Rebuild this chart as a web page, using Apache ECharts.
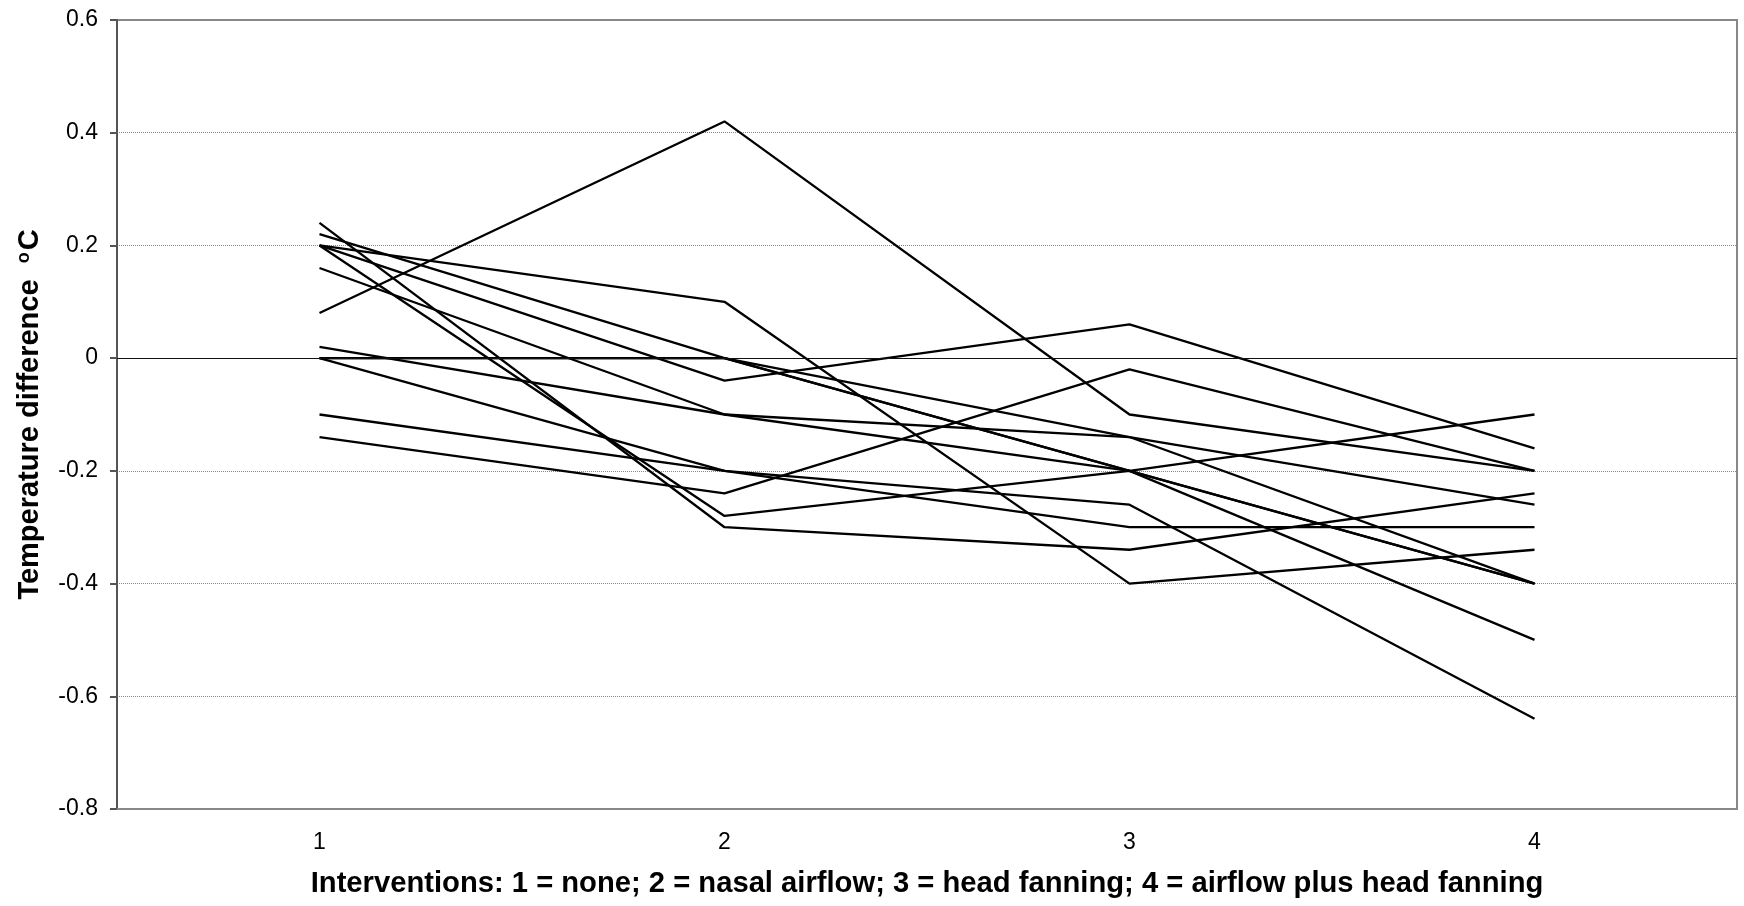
<!DOCTYPE html>
<html>
<head>
<meta charset="utf-8">
<script src="https://cdn.jsdelivr.net/npm/echarts@6/dist/echarts.min.js"></script>
<style>
html,body{margin:0;padding:0;background:#fff;}
#chart{width:1744px;height:906px;}
</style>
</head>
<body>
<div id="chart"></div>
<script>
// Categories (interventions)
const categories = ['1', '2', '3', '4'];
// Y tick settings
const yMin = -0.8, yMax = 0.6, yStep = 0.2;
// One array per subject: temperature difference at interventions 1..4
const s01 = [0.08, 0.42, -0.10, -0.20];
const s02 = [0.20, 0.10, -0.40, -0.34];
const s03 = [0.22, 0.00, -0.14, -0.26];
const s04 = [0.00, 0.00, -0.20, -0.10];
const s05 = [0.00, 0.00, -0.20, -0.40];
const s06 = [0.20, -0.04, 0.06, -0.16];
const s07 = [0.16, -0.10, -0.14, -0.40];
const s08 = [0.02, -0.10, -0.20, -0.40];
const s09 = [0.00, -0.20, -0.26, -0.64];
const s10 = [-0.10, -0.20, -0.30, -0.30];
const s11 = [-0.14, -0.24, -0.02, -0.20];
const s12 = [0.20, -0.28, -0.20, -0.50];
const s13 = [0.24, -0.30, -0.34, -0.24];
const subjects = [s01, s02, s03, s04, s05, s06, s07, s08, s09, s10, s11, s12, s13];

const xTitle = 'Interventions: 1 = none; 2 = nasal airflow; 3 = head fanning; 4 = airflow plus head fanning';
const yTitle = 'Temperature difference  {sup|o}C';

const font = '"Liberation Sans", Arial, sans-serif';

const series = subjects.map((d, i) => ({
  type: 'line',
  data: d,
  symbol: 'none',
  silent: true,
  lineStyle: { color: '#000', width: 2.3 },
  z: 3
}));
// zero reference line
series[0].markLine = {
  silent: true,
  symbol: ['none', 'none'],
  label: { show: false },
  lineStyle: { color: '#111', width: 1, type: 'solid' },
  data: [{ yAxis: 0 }],
  animation: false
};

const chart = echarts.init(document.getElementById('chart'), null, { renderer: 'canvas' });
chart.setOption({
  animation: false,
  backgroundColor: '#fff',
  textStyle: { fontFamily: font },
  grid: {
    left: 117, right: 7, top: 20, bottom: 97,
    show: true, borderColor: '#888', borderWidth: 2, backgroundColor: 'transparent'
  },
  xAxis: {
    type: 'category',
    data: categories,
    boundaryGap: true,
    axisLine: { show: true, onZero: false, lineStyle: { color: '#888', width: 2 } },
    axisTick: { show: false },
    axisLabel: { color: '#000', fontSize: 23, fontFamily: font, margin: 22 },
    splitLine: { show: false },
    name: xTitle,
    nameLocation: 'middle',
    nameGap: 60,
    nameTextStyle: { color: '#000', fontSize: 29.2, fontWeight: 'bold', fontFamily: font }
  },
  yAxis: {
    type: 'value',
    min: yMin, max: yMax, interval: yStep,
    axisLine: { show: true, lineStyle: { color: '#555', width: 2 } },
    axisTick: { show: true, length: 7, lineStyle: { color: '#555', width: 2 } },
    axisLabel: {
      color: '#000', fontSize: 23, fontFamily: font, margin: 19,
      formatter: v => String(+v.toFixed(1))
    },
    splitLine: { show: true, lineStyle: { color: '#888', width: 1, type: 'dotted' } },
    name: yTitle,
    nameLocation: 'middle',
    nameGap: 72,
    nameTextStyle: {
      color: '#000', fontSize: 29, fontWeight: 'bold', fontFamily: font,
      rich: {
        sup: { fontSize: 18, fontWeight: 'bold', fontFamily: font, color: '#000', verticalAlign: 'top', lineHeight: 18, padding: [0, 2, 14, 0] }
      }
    }
  },
  series: series
});
</script>
</body>
</html>
